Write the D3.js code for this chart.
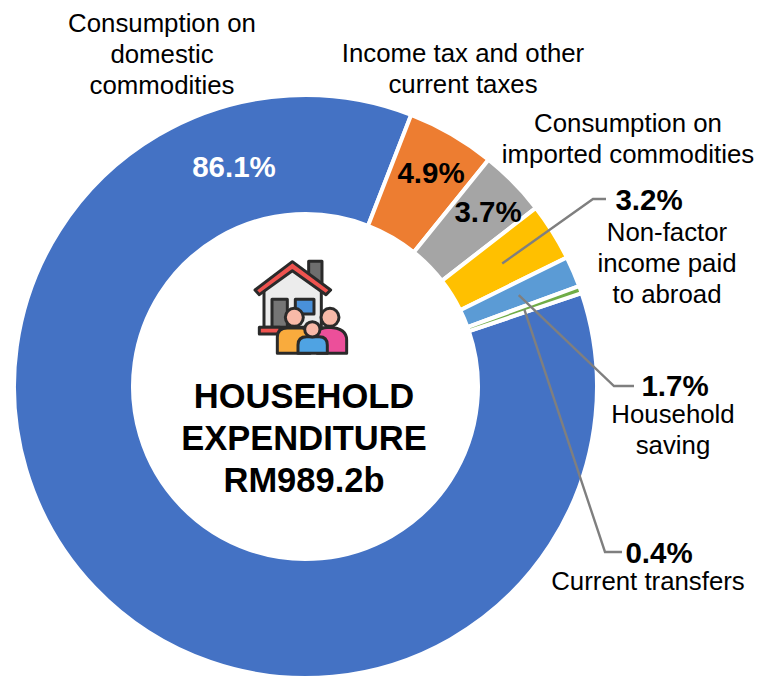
<!DOCTYPE html>
<html>
<head>
<meta charset="utf-8">
<script src="https://cdn.jsdelivr.net/npm/d3@7"></script>
<style>
  html, body { margin: 0; padding: 0; background: #fff; }
  svg { display: block; }
  text { font-family: "Liberation Sans", Arial, sans-serif; fill: #000; }
</style>
</head>
<body>
<svg width="759" height="684"></svg>
<script>
// data
var categories = ["Consumption on domestic commodities", "Income tax and other current taxes",
    "Consumption on imported commodities", "Non-factor income paid to abroad",
    "Household saving", "Current transfers"];
var shares = [86.1, 4.9, 3.7, 3.2, 1.7, 0.4];
var colors = ["#4472c4", "#ed7d31", "#a5a5a5", "#ffc000", "#5b9bd5", "#70ad47"];
var centerLines = ["HOUSEHOLD", "EXPENDITURE", "RM989.2b"];

var svg = d3.select("svg");
var cx = 305.5, cy = 386.5, outer = 291.5, inner = 172.5;

var start = 71.3 * Math.PI / 180;
var pie = d3.pie().sort(null).startAngle(start).endAngle(start + 2 * Math.PI);
var arc = d3.arc().innerRadius(inner).outerRadius(outer);
var slices = pie(shares);

var g = svg.append("g").attr("transform", "translate(" + cx + "," + cy + ")");
g.selectAll("path").data(slices).enter().append("path")
    .attr("d", arc)
    .attr("fill", (d, i) => colors[i])
    .attr("stroke", "#fff")
    .attr("stroke-width", 4);

// labels inside the ring
function pct(i) { return shares[i].toFixed(1) + "%"; }
var inside = [[0, 234, 167, "#fff"], [1, 431, 173, "#000"], [2, 488, 212, "#000"]];
inside.forEach(d => {
    svg.append("text").attr("x", d[1]).attr("y", d[2] + 10)
        .attr("text-anchor", "middle").attr("font-size", 29.5).attr("font-weight", "bold")
        .style("fill", d[3]).text(pct(d[0]));
});

// leader lines start at the slice centroids
var leaders = [
    { i: 3, elbow: [[593, 199], [606, 199]] },
    { i: 4, elbow: [[614, 386], [634, 386]] },
    { i: 5, elbow: [[605, 552], [622, 552]] }
];
leaders.forEach(l => {
    var c = arc.centroid(slices[l.i]);
    var pts = [[c[0] + cx, c[1] + cy]].concat(l.elbow);
    svg.append("path").attr("d", d3.line()(pts))
        .attr("fill", "none").attr("stroke", "#7f7f7f").attr("stroke-width", 2.4);
});

// outside labels
var size = 25.8;
function label(x, y, lines, bold) {
    var t = svg.append("text").attr("text-anchor", "middle").attr("font-size", bold ? 29.5 : size)
        .attr("font-weight", bold ? "bold" : "normal");
    lines.forEach((s, k) => {
        t.append("tspan").attr("x", x).attr("y", y + k * 31).text(s);
    });
}
label(162, 32, ["Consumption on", "domestic", "commodities"]);
label(463, 62, ["Income tax and other", "current taxes"]);
label(628, 132, ["Consumption on", "imported commodities"]);
label(649, 210, [pct(3)], true);
label(667, 241, ["Non-factor", "income paid", "to abroad"]);
label(675, 396, [pct(4)], true);
label(673, 423, ["Household", "saving"]);
label(659, 563, [pct(5)], true);
label(648, 590, ["Current transfers"]);

// centre title
centerLines.forEach((s, k) => {
    svg.append("text").attr("x", 304).attr("y", 408 + k * 42)
        .attr("text-anchor", "middle").attr("font-size", 34.5).attr("font-weight", "bold").text(s);
});

// house and family icon, drawn in 3x units
var defs = svg.append("defs");
defs.append("filter").attr("id", "soft").append("feGaussianBlur").attr("stdDeviation", 1.5);
var ic = svg.append("g").attr("transform", "translate(230,240) scale(0.3333)")
    .attr("filter", "url(#soft)").attr("stroke-linejoin", "round");
var ink = "#2b2b2b";
function shape(d, fill, w) {
    ic.append("path").attr("d", d).attr("fill", fill).attr("stroke", ink).attr("stroke-width", w === undefined ? 9 : w);
}
shape("M236,64H276V130H236Z", "#6e6e6e");
shape("M102,150L187,88L274,150V262H102Z", "#ececec");
shape("M126,178H172V262H126Z", "#757575");
shape("M196,178H252V222H196Z", "#4a90d9");
shape("M75,150L187,65L302,150L288,164L187,92L88,164Z", "#ef5350");
shape("M88,262H150V282H88Z", "#ef5350");
shape("M262,340V285Q262,262 298,262Q350,265 350,300V340Z", "#ec4f9a");
ic.append("circle").attr("cx", 300).attr("cy", 232).attr("r", 27).attr("fill", "#f8b9a8").attr("stroke", ink).attr("stroke-width", 9);
shape("M142,340V292Q142,264 172,264H215Q240,264 240,292V340Z", "#f9ab3c");
ic.append("circle").attr("cx", 193).attr("cy", 232).attr("r", 27).attr("fill", "#f8b9a8").attr("stroke", ink).attr("stroke-width", 9);
shape("M204,340V315Q204,290 230,290H268Q292,290 292,315V340Z", "#4fa3e3");
ic.append("circle").attr("cx", 247).attr("cy", 268).attr("r", 23).attr("fill", "#f8b9a8").attr("stroke", ink).attr("stroke-width", 9);
</script>
</body>
</html>
